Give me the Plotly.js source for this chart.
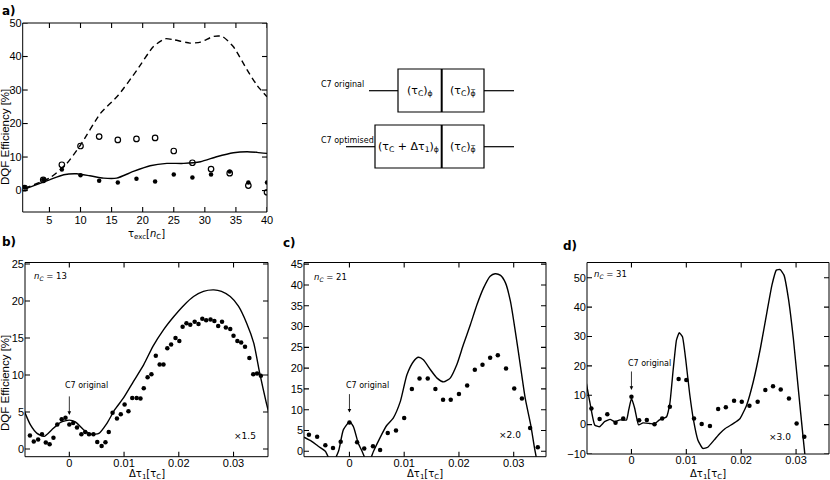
<!DOCTYPE html>
<html>
<head>
<meta charset="utf-8">
<script src="https://cdn.plot.ly/plotly-3.0.1.min.js"></script>
<style>
  html, body { margin: 0; padding: 0; background: #fff; }
  #plot { width: 830px; height: 480px; }
</style>
</head>
<body>
<div id="plot"></div>
<script>
// ---- panel a: DQF efficiency vs excitation time ----
const aX = [1, 4, 7, 10, 13, 16, 19, 22, 25, 28, 31, 34, 37, 40];
const aOpen = [0.7, 3.2, 7.7, 13.3, 16.1, 15.1, 15.4, 15.7, 11.8, 8.3, 6.4, 5.2, 1.5, -0.5];
const aFilled = [0.9, 3.2, 6.3, 4.6, 2.9, 2.4, 3.5, 2.7, 4.8, 3.9, 4.8, 5.7, 2.4, 2.4];
const aDashX = [1, 5, 7.8, 10, 13.2, 16.1, 19.1, 21.7, 23.6, 25, 27.6, 29.3, 31.4, 32.8, 34.6, 36.8, 38.4, 40];
const aDashY = [0.7, 3.7, 8.1, 13.6, 23, 28.5, 36, 42.9, 45.3, 45, 44, 44.3, 46, 46, 42.9, 36, 31.4, 28];
const aSolidX = [1, 5, 7.3, 9.4, 11.5, 13.7, 15.8, 18.5, 21.2, 23.9, 26.6, 29.3, 31.9, 34.6, 36.8, 38.4, 40];
const aSolidY = [0.4, 3.2, 4.7, 5, 4.4, 3.7, 3.7, 5.7, 7.4, 8.1, 8.1, 8.6, 10.1, 11.3, 11.6, 11.4, 11.1];

// ---- panel b: n_C = 13 ----
const bDotX = [-0.0072, -0.0065, -0.0057, -0.0050, -0.0043, -0.0036, -0.0029, -0.0022, -0.0014, -0.0007,
  0.0000, 0.0007, 0.0014, 0.0022, 0.0029, 0.0036, 0.0044, 0.0051, 0.0059, 0.0066,
  0.0072, 0.0079, 0.0087, 0.0094, 0.0101, 0.0108, 0.0115, 0.0123, 0.0130, 0.0136,
  0.0143, 0.0150, 0.0158, 0.0165, 0.0172, 0.0179, 0.0186, 0.0194, 0.0201, 0.0207,
  0.0214, 0.0221, 0.0229, 0.0236, 0.0243, 0.0250, 0.0258, 0.0265, 0.0272, 0.0279,
  0.0286, 0.0294, 0.0300, 0.0307, 0.0314, 0.0321, 0.0329, 0.0336, 0.0343, 0.0350];
const bDotY = [1.8, 1.0, 1.26, 2.0, 0.86, 0.63, 1.5, 3.3, 4.0, 4.2,
  3.3, 3.5, 2.9, 2.0, 2.3, 2.0, 2.0, 0.95, 0.4, 0.9,
  2.3, 4.9, 4.1, 4.7, 6.0, 5.1, 6.9, 6.9, 6.8, 8.2,
  9.7, 10.1, 12.6, 11.4, 11.4, 13.6, 14.1, 15.0, 14.6, 16.5,
  17.0, 16.8, 17.2, 16.9, 17.6, 17.4, 17.5, 17.3, 16.6, 17.2,
  16.4, 16.2, 15.3, 14.6, 14.4, 13.8, 12.3, 10.1, 10.2, 9.9];
const bCurveX = [-0.0082, -0.0071, -0.0059, -0.0046, -0.0032, -0.0016, 0, 0.0011, 0.0026, 0.0041, 0.0054,
  0.0069, 0.0083, 0.0099, 0.0117, 0.0136, 0.0153, 0.0172, 0.0191, 0.0209, 0.0227, 0.0245, 0.0264,
  0.0278, 0.0294, 0.0309, 0.0324, 0.0337, 0.0348, 0.0360, 0.0364];
const bCurveY = [5.05, 3.25, 2.1, 1.7, 2.6, 3.6, 3.9, 3.65, 2.6, 2.0, 2.1,
  3.5, 5.3, 6.9, 9.1, 11.4, 13.9, 16.1, 17.9, 19.4, 20.6, 21.3, 21.5,
  21.3, 20.6, 19.3, 17.0, 14.3, 10.2, 6.2, 5.05];

// ---- panel c: n_C = 21 ----
const cDotX = [-0.0074, -0.0059, -0.0044, -0.0030, -0.0016, 0, 0.0014, 0.0027, 0.0043, 0.0056,
  0.0070, 0.0085, 0.0100, 0.0114, 0.0128, 0.0143, 0.0157, 0.0171, 0.0185, 0.0200,
  0.0215, 0.0229, 0.0243, 0.0257, 0.0271, 0.0286, 0.0301, 0.0315, 0.0330, 0.0344];
const cDotY = [4.0, 3.5, 1.45, 0.8, 2.3, 6.9, 2.2, 0.65, 1.2, 0.3,
  4.4, 5.0, 8.0, 15.0, 17.5, 17.5, 15.0, 12.4, 12.4, 13.8,
  15.8, 19.6, 20.8, 22.5, 23.1, 19.9, 15.1, 12.7, 5.6, 1.0];
const cCurveX = [-0.0083, -0.0069, -0.0057, -0.0044, -0.0032, -0.0020, -0.0011, 0, 0.0007, 0.0016,
  0.0023, 0.0034, 0.0044, 0.0056, 0.0068, 0.0080, 0.0093, 0.0105, 0.0117, 0.0126,
  0.0135, 0.0148, 0.0160, 0.0172, 0.0184, 0.0196, 0.0208, 0.0221, 0.0233, 0.0245,
  0.0257, 0.0266, 0.0276, 0.0285, 0.0294, 0.0303, 0.0312, 0.0321, 0.0331, 0.0338, 0.0345];
const cCurveY = [3.4, 2.4, 1.2, 0, -3, 0, 5.2, 7.05, 6.0, 2.0,
  0, -3, 0, 3.3, 6.2, 8.0, 12.0, 18.4, 21.6, 22.6,
  22.0, 19.6, 17.6, 16.7, 17.6, 20.8, 25.6, 30.5, 35.3, 39.3,
  42.1, 42.7, 42.3, 40.5, 36.1, 28.8, 20.8, 12.8, 6.4, 0.8, -4];

// ---- panel d: n_C = 31 ----
const dDotX = [-0.0073, -0.0058, -0.0044, -0.0029, -0.0015, 0, 0.0014, 0.0028, 0.0042, 0.0056,
  0.0070, 0.0086, 0.0100, 0.0114, 0.0128, 0.0143, 0.0158, 0.0172, 0.0187, 0.0201,
  0.0215, 0.0230, 0.0244, 0.0258, 0.0272, 0.0287, 0.0301, 0.0315];
const dDotY = [5.5, 1.9, 3.5, 0.6, 2.1, 9.5, 1.5, 1.6, 0.1, 2.1,
  6.1, 15.5, 15.2, 2.1, 0.2, -0.5, 5.3, 5.9, 8.1, 7.8,
  6.4, 7.8, 11.8, 13.1, 12.0, 8.9, 0.4, -4.1];
const dCurveX = [-0.0082, -0.0076, -0.0067, -0.0058, -0.0049, -0.0039, -0.0030, -0.0021, -0.0009, -0.0005,
  0, 0.0006, 0.0013, 0.0021, 0.0033, 0.0042, 0.0051, 0.0064, 0.0070, 0.0076,
  0.0082, 0.0087, 0.0093, 0.0099, 0.0106, 0.0113, 0.0121, 0.0130, 0.0139, 0.0151,
  0.0161, 0.0171, 0.0186, 0.0198, 0.0210, 0.0222, 0.0235, 0.0247, 0.0256, 0.0264,
  0.0271, 0.0278, 0.0286, 0.0295, 0.0304, 0.0313, 0.0318];
const dCurveY = [14.0, 7.8, -0.1, -0.7, 1.0, 1.8, 1.0, 1.6, 1.6, 5.0,
  8.9, 5.5, -0.1, 0.6, 0.4, 0.2, 1.6, 2.7, 7.2, 18.6,
  28.8, 31.3, 29.9, 22, 10.6, 1.6, -5.2, -8.1, -7.7, -5.2,
  -3.0, -1.3, 0.4, 2.1, 6.7, 14.6, 26.0, 38.4, 47.5, 52.6,
  52.8, 50.9, 43.0, 29.4, 12.3, -4.7, -13.7];

// tick values
const aXTicks = [5, 10, 15, 20, 25, 30, 35, 40];
const aYTicks = [0, 10, 20, 30, 40, 50];
const tauTicks = [0, 0.01, 0.02, 0.03];
const bYTicks = [0, 5, 10, 15, 20, 25];
const cYTicks = [0, 5, 10, 15, 20, 25, 30, 35, 40, 45];
const dYTicks = [-10, 0, 10, 20, 30, 40, 50];

// panel text
const nLabels = ['13', '21', '31'];
const scaleLabels = ['×1.5', '×2.0', '×3.0'];

// пиксели -> paper
const W = 830, H = 480;
const px = v => v / W;
const py = v => 1 - v / H;

// panel boxes in pixels: [left, right, top, bottom]
const boxA = [22.7, 267, 23, 212];
const boxB = [25, 268, 262.5, 456.7];
const boxC = [304, 546, 262.5, 456.7];
const boxD = [587, 829, 262.5, 454];

const tickFont = { family: 'Liberation Sans, Arial, sans-serif', size: 11, color: '#000' };
const textFont = { family: 'DejaVu Sans, sans-serif', size: 8.5, color: '#000' };

function axis(range, vals, domain, anchor, extra) {
  return Object.assign({
    range: range, tickmode: 'array', tickvals: vals, domain: domain, anchor: anchor,
    showline: false, ticks: '', showgrid: false, zeroline: false, tickfont: tickFont
  }, extra || {});
}
const xDom = b => [px(b[0]), px(b[1])];
const yDom = b => [py(b[3]), py(b[2])];
const lowX = { ticklabelstandoff: -2 };

const dotStyle = { color: '#000', size: 4.5 };
const lineStyle = { color: '#000', width: 1.4, shape: 'spline', smoothing: 0.6 };

const traces = [
  { x: aDashX, y: aDashY, mode: 'lines', line: Object.assign({}, lineStyle, { dash: '6px,4px' }), xaxis: 'x', yaxis: 'y' },
  { x: aSolidX, y: aSolidY, mode: 'lines', line: lineStyle, xaxis: 'x', yaxis: 'y' },
  { x: aX, y: aOpen, mode: 'markers', marker: { symbol: 'circle-open', color: '#000', size: 5.5, line: { width: 1.2 } }, xaxis: 'x', yaxis: 'y' },
  { x: aX, y: aFilled, mode: 'markers', marker: dotStyle, xaxis: 'x', yaxis: 'y' },

  { x: bCurveX, y: bCurveY, mode: 'lines', line: lineStyle, xaxis: 'x2', yaxis: 'y2' },
  { x: bDotX, y: bDotY, mode: 'markers', marker: dotStyle, xaxis: 'x2', yaxis: 'y2' },

  { x: cCurveX, y: cCurveY, mode: 'lines', line: lineStyle, xaxis: 'x3', yaxis: 'y3' },
  { x: cDotX, y: cDotY, mode: 'markers', marker: dotStyle, xaxis: 'x3', yaxis: 'y3' },

  { x: dCurveX, y: dCurveY, mode: 'lines', line: Object.assign({}, lineStyle, { smoothing: 0.4 }), xaxis: 'x4', yaxis: 'y4' },
  { x: dDotX, y: dDotY, mode: 'markers', marker: dotStyle, xaxis: 'x4', yaxis: 'y4' }
];

const annotations = [];
function note(text, x, y, opts) {
  annotations.push(Object.assign({
    text: text, x: px(x), y: py(y), xref: 'paper', yref: 'paper',
    xanchor: 'center', yanchor: 'middle',
    showarrow: false, font: textFont
  }, opts || {}));
}

// panel letters
const boldFont = { family: 'DejaVu Sans, sans-serif', size: 12, color: '#000' };
note('<b>a)</b>', 0, 11, { xanchor: 'left', font: boldFont });
note('<b>b)</b>', 0, 242, { xanchor: 'left', font: boldFont });
note('<b>c)</b>', 281, 243, { xanchor: 'left', font: boldFont });
note('<b>d)</b>', 561, 246, { xanchor: 'left', font: boldFont });

// axis titles
const titleFont = { family: 'Liberation Sans, Arial, sans-serif', size: 11.5, color: '#000' };
const xTitleFont = { family: 'DejaVu Sans, sans-serif', size: 10, color: '#000' };
note('DQF Efficiency [%]', 5, 137, { textangle: -90, font: titleFont });
note('DQF Efficiency [%]', 5, 383, { textangle: -90, font: titleFont });
note('τ<sub>exc</sub>[<i>n</i><sub>C</sub>]', 146, 235, { font: xTitleFont });
note('Δτ<sub>1</sub>[τ<sub>C</sub>]', 147, 474, { font: xTitleFont });
note('Δτ<sub>1</sub>[τ<sub>C</sub>]', 425, 474, { font: xTitleFont });
note('Δτ<sub>1</sub>[τ<sub>C</sub>]', 708, 474, { font: xTitleFont });

// n_C and scale labels
note('<i>n<sub>C</sub></i> = ' + nLabels[0], 32, 276, { xanchor: 'left' });
note('<i>n<sub>C</sub></i> = ' + nLabels[1], 312, 277, { xanchor: 'left' });
note('<i>n<sub>C</sub></i> = ' + nLabels[2], 592, 274, { xanchor: 'left' });
const scaleFont = { family: 'DejaVu Sans, sans-serif', size: 9, color: '#000' };
note(scaleLabels[0], 245, 436, { font: scaleFont });
note(scaleLabels[1], 510, 435, { font: scaleFont });
note(scaleLabels[2], 780, 437, { font: scaleFont });

// "C7 original" arrows
const arrowPanels = [['x2', 'y2', 4.6, 63, 385], ['x3', 'y3', 9.3, 344, 385], ['x4', 'y4', 11.8, 626, 363]];
arrowPanels.forEach(p => {
  annotations.push({ text: '', x: 0, y: p[2], xref: p[0], yref: p[1], showarrow: true,
    arrowhead: 2, arrowsize: 0.9, arrowwidth: 0.8, arrowcolor: '#000', ax: 0, ay: -20 });
  note('C7 original', p[3], p[4], { xanchor: 'left', font: { family: 'DejaVu Sans, sans-serif', size: 8, color: '#000' } });
});

// schematic of the C7 elements
const diagFont = { family: 'DejaVu Sans, sans-serif', size: 11, color: '#000' };
const smallFont = { family: 'DejaVu Sans, sans-serif', size: 8, color: '#000' };
note('C7 original', 319, 84, { xanchor: 'left', font: smallFont });
note('C7 optimised', 319, 140, { xanchor: 'left', font: smallFont });
note('(τ<sub>C</sub>)<sub>ϕ</sub>', 420, 91, { font: diagFont });
note('(τ<sub>C</sub>)<sub>ϕ̅</sub>', 463, 91, { font: diagFont });
note('(τ<sub>C</sub> + Δτ<sub>1</sub>)<sub>ϕ</sub>', 408.5, 147, { font: diagFont });
note('(τ<sub>C</sub>)<sub>ϕ̅</sub>', 463, 147, { font: diagFont });

const shapes = [];
function seg(x0, y0, x1, y1, w) {
  shapes.push({ type: 'line', xref: 'paper', yref: 'paper', x0: px(x0), y0: py(y0), x1: px(x1), y1: py(y1),
    line: { color: '#000', width: w || 1.2 } });
}
function box(x0, y0, x1, y1) {
  shapes.push({ type: 'rect', xref: 'paper', yref: 'paper', x0: px(x0), y0: py(y0), x1: px(x1), y1: py(y1),
    line: { color: '#000', width: 1.2 } });
}
box(398, 69, 484, 112);
seg(441.7, 69, 441.7, 112, 2);
seg(369, 90.7, 398, 90.7);
seg(484, 90.7, 514, 90.7);
box(375, 125, 484, 168);
seg(441.7, 125, 441.7, 168, 2);
seg(346, 146.7, 375, 146.7);
seg(484, 146.7, 514, 146.7);

// frame and inside ticks of every panel (matlab style box)
const TL = 5;
function frame(k, b, xt, yt) {
  const xr = 'x' + k, yr = 'y' + k;
  const fx = TL / (b[1] - b[0]), fy = TL / (b[3] - b[2]);
  const ln = { color: '#000', width: 1.1 };
  shapes.push({ type: 'rect', xref: xr + ' domain', yref: yr + ' domain',
    x0: 0, x1: 1, y0: 0, y1: 1, line: { color: '#000', width: 1 }, layer: 'above' });
  xt.forEach(v => {
    shapes.push({ type: 'line', xref: xr, yref: yr + ' domain', x0: v, x1: v, y0: 0, y1: fy, line: ln });
    shapes.push({ type: 'line', xref: xr, yref: yr + ' domain', x0: v, x1: v, y0: 1 - fy, y1: 1, line: ln });
  });
  yt.forEach(v => {
    shapes.push({ type: 'line', xref: xr + ' domain', yref: yr, x0: 0, x1: fx, y0: v, y1: v, line: ln });
    shapes.push({ type: 'line', xref: xr + ' domain', yref: yr, x0: 1 - fx, x1: 1, y0: v, y1: v, line: ln });
  });
}
frame('', boxA, aXTicks, aYTicks);
frame('2', boxB, tauTicks, bYTicks);
frame('3', boxC, tauTicks, cYTicks);
frame('4', boxD, tauTicks, dYTicks);

const layout = {
  width: W, height: H,
  margin: { l: 0, r: 0, t: 0, b: 0 },
  paper_bgcolor: '#fff', plot_bgcolor: '#fff',
  showlegend: false,
  xaxis: axis([0.7, 40], aXTicks, xDom(boxA), 'y'),
  yaxis: axis([-6.4, 50], aYTicks, yDom(boxA), 'x'),
  xaxis2: axis([-0.0081, 0.0363], tauTicks, xDom(boxB), 'y2', lowX),
  yaxis2: axis([-1.05, 25.2], bYTicks, yDom(boxB), 'x2'),
  xaxis3: axis([-0.0083, 0.0359], tauTicks, xDom(boxC), 'y3', lowX),
  yaxis3: axis([-1.3, 45.4], cYTicks, yDom(boxC), 'x3'),
  xaxis4: axis([-0.0081, 0.0360], tauTicks, xDom(boxD), 'y4', lowX),
  yaxis4: axis([-10, 55.2], dYTicks, yDom(boxD), 'x4'),
  annotations: annotations,
  shapes: shapes
};

Plotly.newPlot('plot', traces, layout, { displayModeBar: false });
</script>
</body>
</html>
